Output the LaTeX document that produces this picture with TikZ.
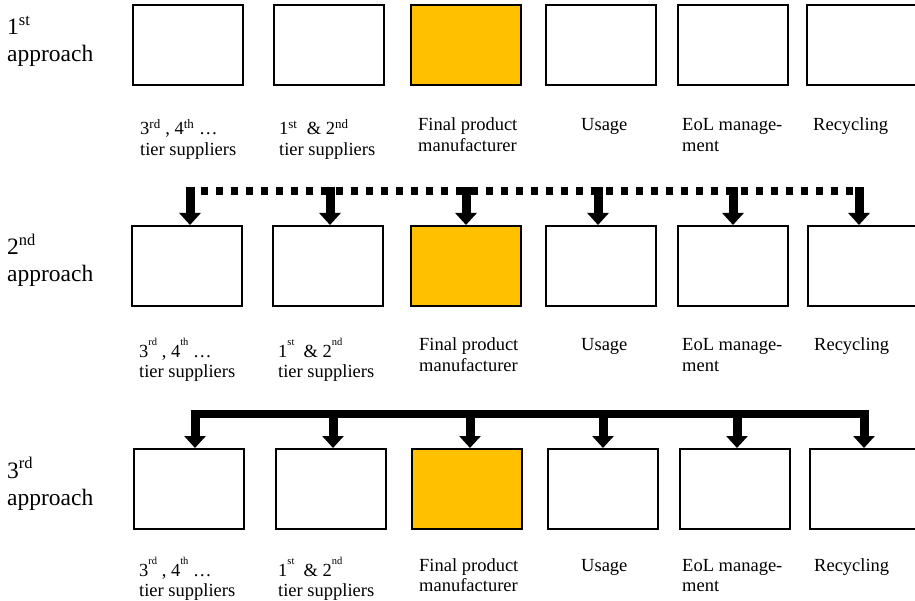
\documentclass[tikz,border=0pt]{standalone}
\usepackage{fontspec}
\setmainfont{Liberation Serif}
\usetikzlibrary{arrows.meta}
\definecolor{mfgorange}{RGB}{255,192,0}
% raised, small ordinal suffix used in the lower two rows
\newcommand\hisup[1]{\raisebox{0.62em}{\fontsize{10.5}{10.5}\selectfont #1}}
% two-line caption whose reference point is the first baseline
\newcommand\twolines[2]{\begin{tabular}[t]{@{}l@{}}#1\\#2\end{tabular}}

\begin{document}
\begin{tikzpicture}[x=1pt,y=-1pt,
  stage/.style={draw=black, line width=2.6pt, fill=white, minimum width=110pt,
                minimum height=80pt, inner sep=0pt, outer sep=0pt, anchor=north west},
  core/.style={stage, fill=mfgorange},
  caption/.style={anchor=base west, inner sep=0pt, font=\fontsize{18.5}{20.5}\selectfont},
  rowname/.style={anchor=base west, inner sep=0pt, font=\fontsize{23.5}{27}\selectfont},
  feed/.style={line width=9pt, -{Triangle[width=21pt,length=12pt]}, shorten >=1pt},
  dotbar/.style={line width=8pt, dash pattern=on 7.5pt off 7.5pt},
  solidbar/.style={line width=8pt},
]
\useasboundingbox (0,0) rectangle (915,601);
\clip (0,0) rectangle (915,601);

% ---------- row 1 ----------
\node[rowname] (r1a) at (7,35) {1\textsuperscript{st}};
\node[rowname] (r1b) at (7,62) {approach};
\node[stage] (b1-1) at (133,5) {};
\node[stage] (b1-2) at (274,5) {};
\node[core]  (b1-3) at (411,5) {};
\node[stage] (b1-4) at (546,5) {};
\node[stage] (b1-5) at (678,5) {};
\node[stage] (b1-6) at (807,5) {};
\node[caption] (c1-1) at (140,135) {\twolines{3\textsuperscript{rd} , 4\textsuperscript{th} \dots}{tier suppliers}};
\node[caption] (c1-2) at (279,135) {\twolines{1\textsuperscript{st} \ \& 2\textsuperscript{nd}}{tier suppliers}};
\node[caption] (c1-3) at (418,131) {\twolines{Final product}{manufacturer}};
\node[caption] (c1-4) at (581,131) {Usage};
\node[caption] (c1-5) at (682,131) {\twolines{EoL manage-}{ment}};
\node[caption] (c1-6) at (813,131) {Recycling};

% ---------- row 2 ----------
\node[rowname] (r2a) at (7,255) {2\textsuperscript{nd}};
\node[rowname] (r2b) at (7,282) {approach};
\node[stage] (b2-1) at (132,226) {};
\node[stage] (b2-2) at (273,226) {};
\node[core]  (b2-3) at (411,226) {};
\node[stage] (b2-4) at (546,226) {};
\node[stage] (b2-5) at (678,226) {};
\node[stage] (b2-6) at (808,226) {};
\node[caption] (c2-1) at (139,357) {\twolines{3\hisup{rd} , 4\hisup{th} \dots}{tier suppliers}};
\node[caption] (c2-2) at (278,357) {\twolines{1\hisup{st} \ \& 2\hisup{nd}}{tier suppliers}};
\node[caption] (c2-3) at (419,351) {\twolines{Final product}{manufacturer}};
\node[caption] (c2-4) at (581,351) {Usage};
\node[caption] (c2-5) at (682,351) {\twolines{EoL manage-}{ment}};
\node[caption] (c2-6) at (814,351) {Recycling};

\coordinate (d2L) at (185.5,191);
\coordinate (d2R) at (863.5,191);
\draw[dotbar] (d2L) -- (d2R);
\coordinate (f2-1) at (190,187);
\coordinate (f2-2) at (330,187);
\coordinate (f2-3) at (466,187);
\coordinate (f2-4) at (598,187);
\coordinate (f2-5) at (733,187);
\coordinate (f2-6) at (859,187);
\foreach \i in {1,...,6}
  \draw[feed] (f2-\i) -- (f2-\i |- b2-\i.north);

% ---------- row 3 ----------
\node[rowname] (r3a) at (7,478) {3\textsuperscript{rd}};
\node[rowname] (r3b) at (7,505) {approach};
\node[stage] (b3-1) at (134,449) {};
\node[stage] (b3-2) at (276,449) {};
\node[core]  (b3-3) at (412,449) {};
\node[stage] (b3-4) at (548,449) {};
\node[stage] (b3-5) at (680,449) {};
\node[stage] (b3-6) at (810,449) {};
\node[caption] (c3-1) at (139,576) {\twolines{3\hisup{rd} , 4\hisup{th} \dots}{tier suppliers}};
\node[caption] (c3-2) at (278,576) {\twolines{1\hisup{st} \ \& 2\hisup{nd}}{tier suppliers}};
\node[caption] (c3-3) at (419,571) {\twolines{Final product}{manufacturer}};
\node[caption] (c3-4) at (581,571) {Usage};
\node[caption] (c3-5) at (682,571) {\twolines{EoL manage-}{ment}};
\node[caption] (c3-6) at (814,571) {Recycling};

\coordinate (d3L) at (190.5,414);
\coordinate (d3R) at (868.5,414);
\draw[solidbar] (d3L) -- (d3R);
\coordinate (f3-1) at (195,414);
\coordinate (f3-2) at (333,414);
\coordinate (f3-3) at (470,414);
\coordinate (f3-4) at (603,414);
\coordinate (f3-5) at (737,414);
\coordinate (f3-6) at (864,414);
\foreach \i in {1,...,6}
  \draw[feed] (f3-\i) -- (f3-\i |- b3-\i.north);
\end{tikzpicture}
\end{document}
